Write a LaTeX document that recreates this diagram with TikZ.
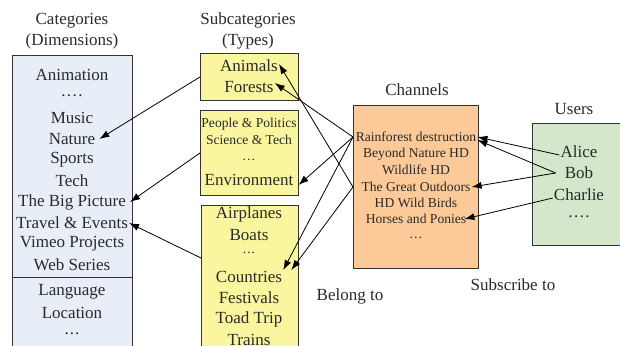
\documentclass[tikz,border=0pt]{standalone}
\usepackage{fontspec}
\setmainfont{Liberation Serif}
\usepackage{xcolor}
\definecolor{cCat}{HTML}{E7EEF8}
\definecolor{cSub}{HTML}{FAF6A0}
\definecolor{cChan}{HTML}{FBCA98}
\definecolor{cUser}{HTML}{D4E7CA}
\definecolor{cText}{HTML}{2A2A2A}
\definecolor{cLine}{HTML}{333333}
\usepackage{tikz}
\usetikzlibrary{positioning,arrows.meta}
\newcommand\fourdots{.\kern1.5pt.\kern1.5pt.\kern1.5pt.}
\newcommand\threedots{.\kern1pt.\kern1pt.}
\tikzset{
  box-base/.style={draw=cLine,line width=0.9pt,anchor=north west,inner sep=0pt},
  box-cat/.style={box-base,fill=cCat},
  box-sub/.style={box-base,fill=cSub},
  box-chan/.style={box-base,fill=cChan},
  box-user/.style={box-base,fill=cUser},
  item/.style={font=\fontsize{17}{20}\selectfont,text=cText,inner sep=1pt},
  item-small/.style={font=\fontsize{13.6}{15}\selectfont,text=cText,inner sep=1pt},
  item-tiny/.style={font=\fontsize{13.6}{15}\selectfont,text=cText,inner sep=1pt},
  title/.style={font=\fontsize{17}{21}\selectfont,text=cText,align=center},
  arrow/.style={-{Latex[length=10pt,width=7pt]},line width=0.8pt,draw=black},
}
\begin{document}
\begin{tikzpicture}[x=1pt,y=-1pt]
  \useasboundingbox (0,0) rectangle (620,345);
  % boxes
  \node[box-cat,minimum width=120pt,minimum height=222pt] (cat-box) at (12,55) {};
  \node[box-cat,minimum width=120pt,minimum height=90pt] (cat-box-b) at (12,277) {};
  \node[box-sub,minimum width=98pt,minimum height=47pt] (sub-a) at (200,53) {};
  \node[box-sub,minimum width=98pt,minimum height=85pt] (sub-b) at (200,110) {};
  \node[box-sub,minimum width=97pt,minimum height=150pt] (sub-c) at (201,205) {};
  \node[box-chan,minimum width=125pt,minimum height=163pt] (chan-box) at (353,105) {};
  \node[box-user,minimum width=100pt,minimum height=122pt] (user-box) at (532,123) {};

  % titles
  \node[title] (cat-title) at (72,31) {Categories\\(Dimensions)};
  \node[title] (sub-title) at (248,31) {Subcategories\\(Types)};
  \node[title] (chan-title) at (417,90) {Channels};
  \node[title] (user-title) at (574,109) {Users};
  \node[title] (belong) at (350,296) {Belong to};
  \node[title] (subscribe) at (513,285) {Subscribe to};

  % categories
  \foreach \name/\txt/\y in {anim/Animation/75, dots/\fourdots/96, music/Music/118,
      nature/Nature/139, sports/Sports/160, tech/Tech/181, big/The Big Picture/202,
      travel/Travel \& Events/223, vimeo/Vimeo Projects/244, web/Web Series/265,
      lang/Language/292, loc/Location/313, more/\threedots/334}
    \node[item] (cat-\name) at (72,\y) {\txt};

  % subcategories
  \foreach \name/\txt/\y in {animals/Animals/66, forests/Forests/87,
      env/Environment/180, air/Airplanes/214, boats/Boats/235,
      countries/Countries/277, fest/Festivals/298, toad/Toad Trip/319, trains/Trains/340}
    \node[item] (sub-\name) at (249,\y) {\txt};
  \node[item-tiny] (sub-people) at (249,124) {People \& Politics};
  \node[item-tiny] (sub-science) at (249,140) {Science \& Tech};
  \node[item-tiny] (sub-dots) at (249,160) {\dots};
  \node[item-tiny] (sub-more) at (249,253) {\threedots};

  % channels
  \foreach \name/\txt/\y in {rain/Rainforest destruction/137, beyond/Beyond Nature HD/154,
      wild/Wildlife HD/170, outdoors/The Great Outdoors/187, birds/HD Wild Birds/203,
      horses/Horses and Ponies/219, dots/\dots/238}
    \node[item-small] (chan-\name) at (416,\y) {\txt};

  % users
  \foreach \name/\txt/\y in {alice/Alice/152, bob/Bob/173, charlie/Charlie/195, dots/\fourdots/217}
    \node[item] (user-\name) at (579,\y) {\txt};

  % belong to
  \draw[arrow] (sub-a.west) -- ([xshift=3pt]cat-nature.east);
  \draw[arrow] (sub-b.west) -- ([xshift=3pt]cat-big.east);
  \coordinate (sub-c-in) at (201,258);
  \draw[arrow] (sub-c-in) -- (cat-travel.east);
  \draw[arrow] (chan-box.west |- chan-rain) -- ([yshift=4pt]sub-forests.east);
  \draw[arrow] (chan-box.west |- chan-rain) -- ([xshift=4pt,yshift=-5pt]sub-env.east);
  \draw[arrow] (chan-box.west |- chan-rain) -- ([xshift=0pt]sub-countries.north east);
  \draw[arrow] (chan-box.west |- chan-outdoors) -- ([yshift=2pt]sub-animals.east);
  \draw[arrow] (chan-box.west |- chan-outdoors) -- ([xshift=8pt]sub-countries.north east);

  % subscribe to
  \draw[arrow] ([yshift=-3pt]user-alice.west) -- (chan-rain.east);
  \draw[arrow] ([xshift=-8pt]user-bob.west) -- ([yshift=-3pt]chan-rain.east);
  \draw[arrow] ([xshift=-8pt]user-bob.west) -- (chan-outdoors.east);
  \draw[arrow] ([yshift=-3pt]user-charlie.west) -- ([xshift=-3pt]chan-horses.east);
\end{tikzpicture}
\end{document}
